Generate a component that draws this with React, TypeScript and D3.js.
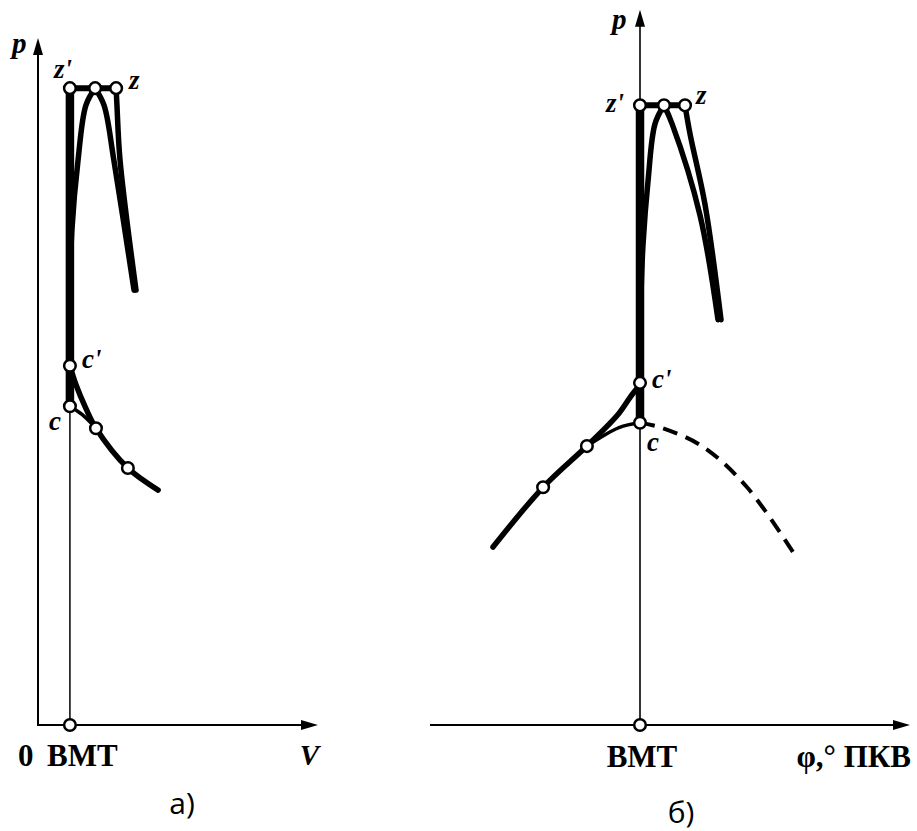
import React from "react";
import * as d3 from "d3";

// а) p–V diagram, relative units
const vRange = [0, 10];
const pRange = [0, 10];
const vBMT = 1.14;
const topA: [number, number][] = [[1.14, 9.27], [2.04, 9.27], [2.79, 9.27]]; // z', middle, z
const zLineA: [number, number][] = [[2.79, 9.27], [2.82, 9.02], [2.93, 8.22], [3.5, 6.33]];
const midRightA: [number, number][] = [[2.04, 9.27], [2.36, 9.02], [2.71, 8.22], [3.43, 6.33]];
const midLeftA: [number, number][] = [[2.04, 9.27], [1.71, 9.02], [1.43, 8.22], [1.21, 7.2], [1.15, 6.4]];
const compA: [number, number][] = [[4.29, 3.42], [3.21, 3.74], [2.07, 4.32], [1.71, 4.61], [1.36, 4.95], [1.14, 5.23]];
const motorA: [number, number][] = [[2.07, 4.32], [1.57, 4.52], [1.14, 4.64]];
const cA = 4.64;
const cPrimeA = 5.23;
const dotsA: [number, number][] = [[3.21, 3.74], [2.07, 4.32]];

// б) p–φ diagram, φ in crank degrees from ВМТ
const phiRange = [-70, 90];
const pTopB = 10.41;
const topB: [number, number][] = [[0, 9.02], [8, 9.02], [15, 9.02]];
const zLineB: [number, number][] = [[15, 9.02], [16.7, 8.6], [21.7, 7.57], [27, 5.9]];
const midRightB: [number, number][] = [[8, 9.02], [10.7, 8.75], [20, 7.42], [26, 5.9]];
const midLeftB: [number, number][] = [[8, 9.02], [5, 8.75], [2.7, 7.93], [1, 6.99], [0.3, 6.2]];
const compB: [number, number][] = [[-49, 2.59], [-32.3, 3.46], [-17.7, 4.06], [-7.7, 4.5], [-3.3, 4.77], [-0.7, 4.92], [0, 4.98]];
const motorB: [number, number][] = [[-17.7, 4.06], [-7, 4.33], [0, 4.4]];
const dashedB: [number, number][] = [[0, 4.4], [7, 4.33], [21, 4.05], [35.7, 3.46], [52.3, 2.43]];
const cB = 4.4;
const cPrimeB = 4.98;
const dotsB: [number, number][] = [[-17.7, 4.06], [-32.3, 3.46]];

const serif = "'Liberation Serif', 'Times New Roman', serif";
const sans = "'Open Sans', 'Noto Sans', sans-serif";

const xA = d3.scaleLinear().domain(vRange).range([38, 318]);
const yP = d3.scaleLinear().domain(pRange).range([725, 38]);
const xB = d3.scaleLinear().domain(phiRange).range([430, 910]);

const arrowUp = (x: number, y: number) => `${x},${y} ${x - 5},${y + 17} ${x + 5},${y + 17}`;
const arrowRight = (x: number, y: number) => `${x},${y} ${x - 17},${y - 5} ${x - 17},${y + 5}`;

const Dot = ({ cx, cy }: { cx: number; cy: number }) => (
  <circle cx={cx} cy={cy} r={5.8} fill="#fff" stroke="#000" strokeWidth={2.5} />
);

export default function App() {
  const lineA = d3.line<[number, number]>().x((d) => xA(d[0])).y((d) => yP(d[1])).curve(d3.curveCatmullRom);
  const lineB = d3.line<[number, number]>().x((d) => xB(d[0])).y((d) => yP(d[1])).curve(d3.curveCatmullRom);
  const thick = { fill: "none", stroke: "#000", strokeWidth: 5.5, strokeLinecap: "round" as const, strokeLinejoin: "round" as const };

  const y0 = yP(0);
  const bx = xA(vBMT);
  const bxB = xB(0);

  return (
    <svg width={917} height={831} style={{ position: "absolute", left: 0, top: 0, background: "#fff" }}>
      {/* ---- а) ---- */}
      <line x1={xA(0)} y1={y0} x2={xA(10) - 10} y2={y0} stroke="#000" strokeWidth={2} />
      <polygon points={arrowRight(xA(10), y0)} fill="#000" />
      <line x1={xA(0)} y1={y0 + 1} x2={xA(0)} y2={yP(10) + 10} stroke="#000" strokeWidth={2} />
      <polygon points={arrowUp(xA(0), yP(10))} fill="#000" />
      <line x1={bx} y1={yP(cA)} x2={bx} y2={y0} stroke="#000" strokeWidth={1.5} />

      <line x1={bx} y1={yP(cA)} x2={bx} y2={yP(topA[0][1])} stroke="#000" strokeWidth={8.5} />
      <line x1={xA(topA[0][0])} y1={yP(topA[0][1])} x2={xA(topA[2][0])} y2={yP(topA[2][1])} stroke="#000" strokeWidth={6} />
      <path d={lineA(zLineA) ?? ""} {...thick} />
      <path d={lineA(midRightA) ?? ""} {...thick} />
      <path d={lineA(midLeftA) ?? ""} {...thick} />
      <path d={lineA(compA) ?? ""} {...thick} />
      <path d={lineA(motorA) ?? ""} {...thick} strokeWidth={3.5} />

      {topA.map((d, i) => <Dot key={"ta" + i} cx={xA(d[0])} cy={yP(d[1])} />)}
      <Dot cx={bx} cy={yP(cPrimeA)} />
      <Dot cx={bx} cy={yP(cA)} />
      {dotsA.map((d, i) => <Dot key={"da" + i} cx={xA(d[0])} cy={yP(d[1])} />)}
      <Dot cx={bx} cy={y0} />

      <g fontFamily={serif} fontWeight="bold" fontStyle="italic">
        <text x={12} y={53} fontSize={29}>p</text>
        <text x={54} y={78} fontSize={27}>z'</text>
        <text x={129} y={89} fontSize={27}>z</text>
        <text x={82} y={368} fontSize={27}>c'</text>
        <text x={49} y={430} fontSize={27}>c</text>
        <text x={319} y={765} fontSize={29} textAnchor="end">V</text>
      </g>
      <g fontFamily={serif} fontWeight="bold" fontSize={31}>
        <text x={18} y={766}>0</text>
        <text x={47} y={766}>ВМТ</text>
      </g>
      <text x={182} y={814} fontFamily={sans} fontSize={30} textAnchor="middle">а)</text>

      {/* ---- б) ---- */}
      <line x1={xB(-70)} y1={y0} x2={xB(90) - 10} y2={y0} stroke="#000" strokeWidth={2} />
      <polygon points={arrowRight(xB(90), y0)} fill="#000" />
      <line x1={bxB} y1={y0} x2={bxB} y2={yP(pTopB) + 10} stroke="#000" strokeWidth={1.6} />
      <polygon points={arrowUp(bxB, yP(pTopB))} fill="#000" />

      <path d={lineB(dashedB) ?? ""} fill="none" stroke="#000" strokeWidth={4} strokeDasharray="15 9" />
      <line x1={bxB} y1={yP(cB)} x2={bxB} y2={yP(topB[0][1])} stroke="#000" strokeWidth={8.5} />
      <line x1={xB(topB[0][0])} y1={yP(topB[0][1])} x2={xB(topB[2][0])} y2={yP(topB[2][1])} stroke="#000" strokeWidth={6} />
      <path d={lineB(zLineB) ?? ""} {...thick} />
      <path d={lineB(midRightB) ?? ""} {...thick} />
      <path d={lineB(midLeftB) ?? ""} {...thick} />
      <path d={lineB(compB) ?? ""} {...thick} />
      <path d={lineB(motorB) ?? ""} {...thick} strokeWidth={3.5} />

      {topB.map((d, i) => <Dot key={"tb" + i} cx={xB(d[0])} cy={yP(d[1])} />)}
      <Dot cx={bxB} cy={yP(cPrimeB)} />
      <Dot cx={bxB} cy={yP(cB)} />
      {dotsB.map((d, i) => <Dot key={"db" + i} cx={xB(d[0])} cy={yP(d[1])} />)}
      <Dot cx={bxB} cy={y0} />

      <g fontFamily={serif} fontWeight="bold" fontStyle="italic">
        <text x={612} y={29} fontSize={29}>p</text>
        <text x={606} y={112} fontSize={27}>z'</text>
        <text x={696} y={104} fontSize={27}>z</text>
        <text x={652} y={388} fontSize={27}>c'</text>
        <text x={647} y={451} fontSize={27}>c</text>
      </g>
      <g fontFamily={serif} fontWeight="bold" fontSize={31}>
        <text x={bxB + 2} y={767} textAnchor="middle">ВМТ</text>
        <text x={911} y={767} textAnchor="end">φ,° ПКВ</text>
      </g>
      <text x={681} y={823} fontFamily={sans} fontSize={30} textAnchor="middle">б)</text>
    </svg>
  );
}
